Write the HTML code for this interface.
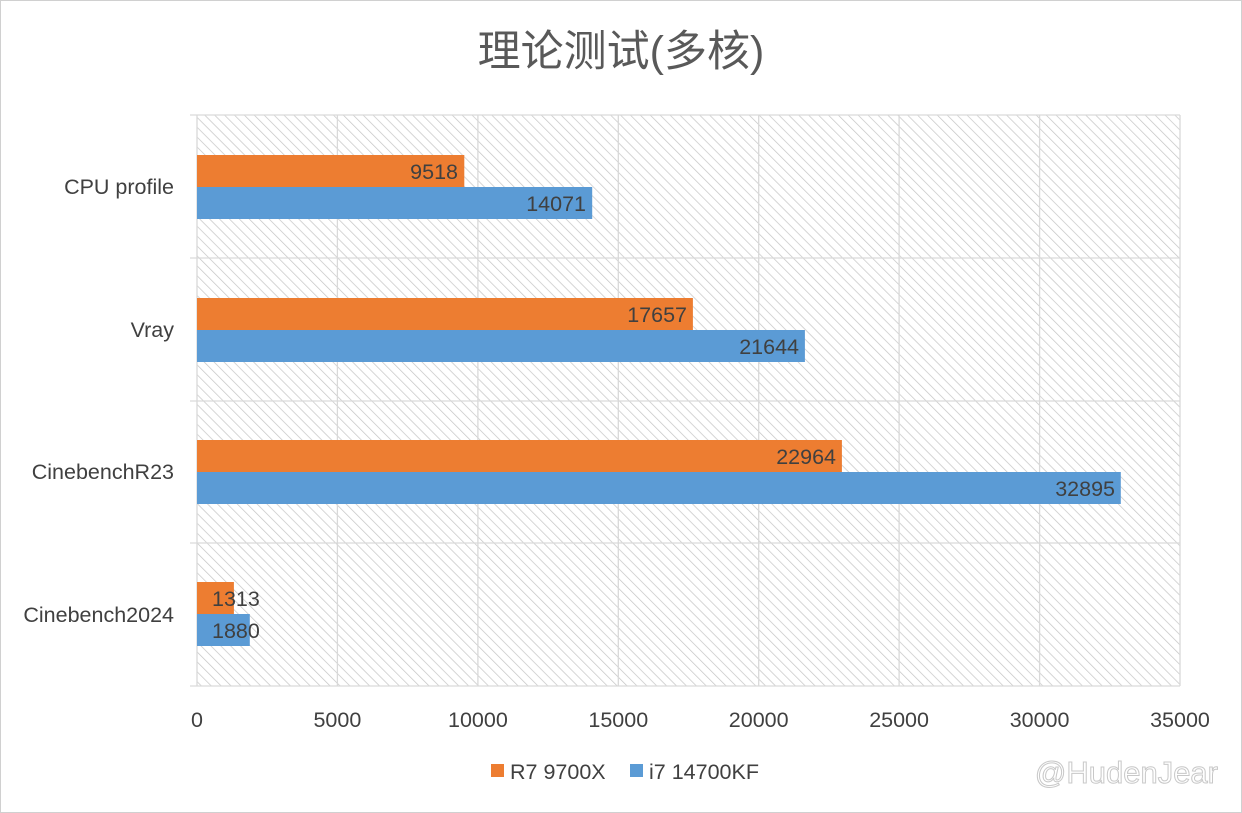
<!DOCTYPE html>
<html><head><meta charset="utf-8"><style>
html,body{margin:0;padding:0;background:#fff}
svg{display:block}
text{font-family:"Liberation Sans","Noto Sans CJK SC",sans-serif;fill:#404040}
</style></head><body>
<svg width="1242" height="813" viewBox="0 0 1242 813" xmlns="http://www.w3.org/2000/svg">
<defs>
<pattern id="h" width="7" height="7" patternUnits="userSpaceOnUse" patternTransform="rotate(-45)">
<rect width="7" height="7" fill="#fff"/>
<line x1="0" y1="0" x2="0" y2="7" stroke="#c4c4c4" stroke-width="1.4"/>
</pattern>
</defs>
<rect x="0.5" y="0.5" width="1241" height="812" fill="#fff" stroke="#d0d0d0"/>
<text x="621" y="66" font-size="43" text-anchor="middle" style="fill:#595959">理论测试(多核)</text>
<rect x="197" y="115" width="983" height="571" fill="url(#h)"/>
<g stroke="#d9d9d9" stroke-width="1.3">
<line x1="190" y1="115" x2="1180" y2="115"/>
<line x1="190" y1="258" x2="1180" y2="258"/>
<line x1="190" y1="401" x2="1180" y2="401"/>
<line x1="190" y1="543" x2="1180" y2="543"/>
<line x1="190" y1="686" x2="1180" y2="686"/>
<line x1="197" y1="115" x2="197" y2="686"/>
<line x1="337.4" y1="115" x2="337.4" y2="686"/>
<line x1="477.9" y1="115" x2="477.9" y2="686"/>
<line x1="618.3" y1="115" x2="618.3" y2="686"/>
<line x1="758.7" y1="115" x2="758.7" y2="686"/>
<line x1="899.1" y1="115" x2="899.1" y2="686"/>
<line x1="1039.6" y1="115" x2="1039.6" y2="686"/>
<line x1="1180" y1="115" x2="1180" y2="686"/>
</g>
<g>
<rect x="197" y="155" width="267.3" height="32" fill="#ed7d31"/>
<rect x="197" y="187" width="395.2" height="32" fill="#5b9bd5"/>
<rect x="197" y="298" width="495.9" height="32" fill="#ed7d31"/>
<rect x="197" y="330" width="607.9" height="32" fill="#5b9bd5"/>
<rect x="197" y="440" width="644.9" height="32" fill="#ed7d31"/>
<rect x="197" y="472" width="923.8" height="32" fill="#5b9bd5"/>
<rect x="197" y="582" width="36.9" height="32" fill="#ed7d31"/>
<rect x="197" y="614" width="52.8" height="32" fill="#5b9bd5"/>
</g>
<g font-size="21.5" text-anchor="end">
<text x="458" y="179">9518</text>
<text x="586" y="211">14071</text>
<text x="687" y="322">17657</text>
<text x="799" y="354">21644</text>
<text x="836" y="464">22964</text>
<text x="1115" y="496">32895</text>
<text x="212" y="606" text-anchor="start">1313</text>
<text x="212" y="638" text-anchor="start">1880</text>
</g>
<g font-size="21.5" text-anchor="end">
<text x="174" y="194">CPU profile</text>
<text x="174" y="337">Vray</text>
<text x="174" y="479">CinebenchR23</text>
<text x="174" y="622">Cinebench2024</text>
</g>
<g font-size="21.5" text-anchor="middle">
<text x="197" y="727">0</text>
<text x="337.4" y="727">5000</text>
<text x="477.9" y="727">10000</text>
<text x="618.3" y="727">15000</text>
<text x="758.7" y="727">20000</text>
<text x="899.1" y="727">25000</text>
<text x="1039.6" y="727">30000</text>
<text x="1180" y="727">35000</text>
</g>
<rect x="491" y="764" width="13" height="13" fill="#ed7d31"/>
<text x="510" y="779" font-size="21.5">R7 9700X</text>
<rect x="630" y="764" width="13" height="13" fill="#5b9bd5"/>
<text x="649" y="779" font-size="21.5">i7 14700KF</text>
<text x="1218" y="783" font-size="31" text-anchor="end" style="fill:none;stroke:#c8c8c8;stroke-width:1">@HudenJear</text>
</svg>
</body></html>
